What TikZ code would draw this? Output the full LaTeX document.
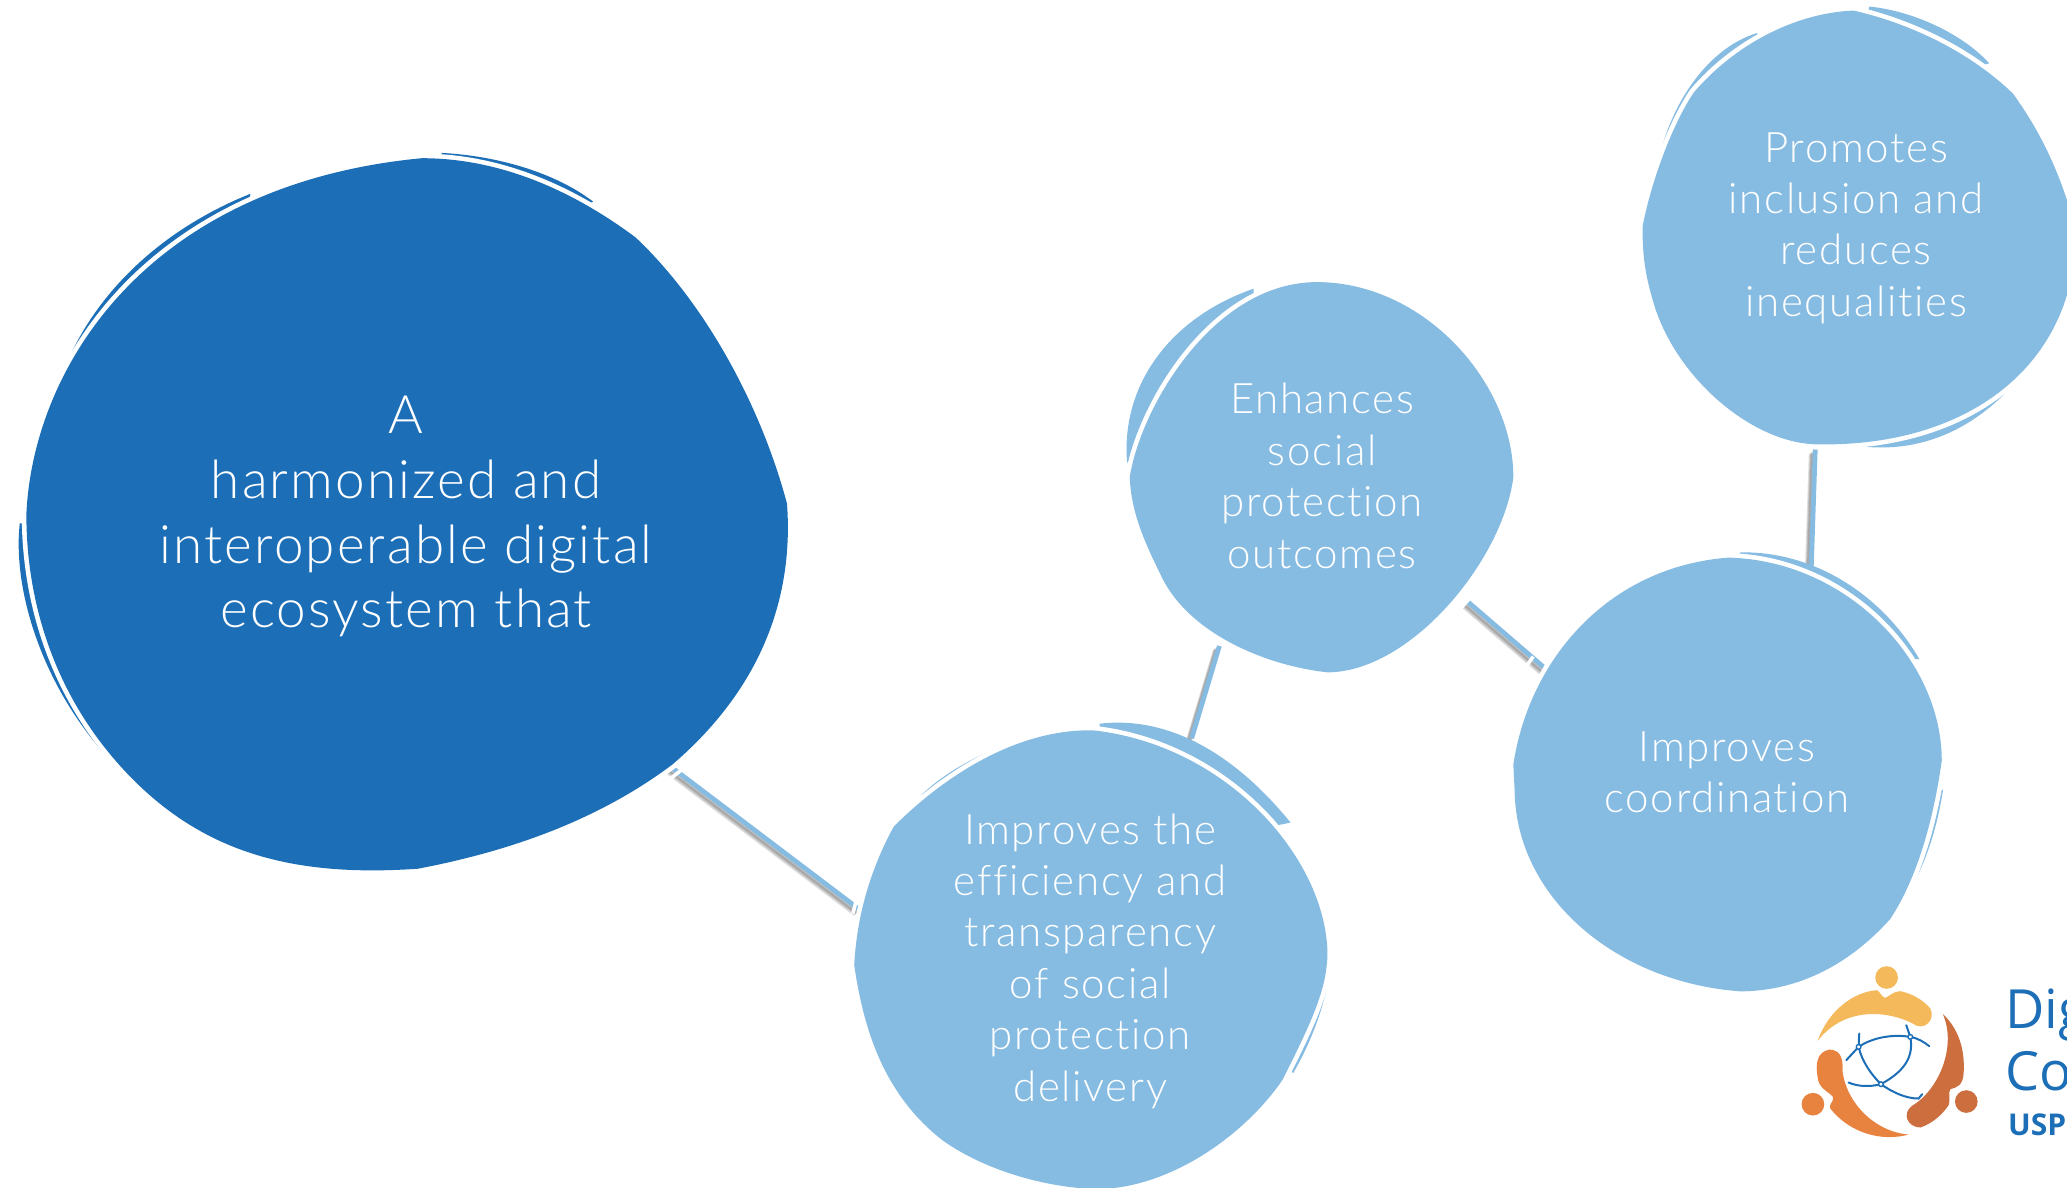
\documentclass[tikz,border=0pt]{standalone}
\usepackage{fontspec}
\setmainfont{Lato}[UprightFont=* Light,LetterSpace=4,Ligatures=NoCommon]
\newfontfamily\logofont{Open Sans}
\definecolor{dk}{HTML}{1C6EB7}
\definecolor{lt}{HTML}{86BBE2}
\definecolor{ly}{HTML}{F4B95B}
\definecolor{lo}{HTML}{E8833F}
\definecolor{ld}{HTML}{CC6E3E}
\tikzset{
  x=0.659pt,y=-0.659pt,
  blobdark/.style={fill=dk,preaction={draw=white,line width=4.6pt}},
  blobltc/.style={fill=lt,preaction={draw=white,line width=4.6pt}},
  label/.style={text=white,align=center,inner sep=0pt},
  smalltext/.style={label,font=\fontsize{21}{25.7}\selectfont},
  bigtext/.style={label,font=\fontsize{26.5}{32.3}\selectfont},
  link/.style={draw=lt,line width=2.4pt},
  linkshadow/.style={draw=black,line width=2.4pt,opacity=.13},
  net/.style={draw=dk,line width=1pt,line cap=round}
}
\begin{document}
\begin{tikzpicture}
\useasboundingbox (0,0) rectangle (1568,901);
\clip (0,0) rectangle (1568,901);
% connector ends
\coordinate (l1a) at (508,581); \coordinate (l1b) at (652,690);
\coordinate (l2a) at (925,490); \coordinate (l2b) at (904,560);
\coordinate (l3a) at (1114,457); \coordinate (l3b) at (1172,507);
\coordinate (l4a) at (1377,341); \coordinate (l4b) at (1374,430);
\foreach \a/\b in {l1a/l1b,l2a/l2b,l3a/l3b,l4a/l4b}{
  \draw[linkshadow,transform canvas={xshift=-2pt,yshift=-2.2pt}] (\a) -- (\b);
  \draw[linkshadow,transform canvas={xshift=-1.5pt,yshift=-1.7pt}] (\a) -- (\b);
  \draw[linkshadow,transform canvas={xshift=-1pt,yshift=-1.2pt}] (\a) -- (\b);
  \draw[link] (\a) -- (\b);
}
% crescents, big blob
\fill[dk] (190,147) .. controls (120,175) and (70,225) .. (48,282) -- (150,300) -- cycle;
\fill[dk] (335,116) .. controls (375,118) and (420,130) .. (450,153) -- (330,200) -- cycle;
\fill[dk] (15,397) .. controls (8,460) and (45,560) .. (129,615) -- (200,400) -- cycle;
% crescents, blob 2
\fill[lt] (699,603) .. controls (725,578) and (770,557) .. (820,552) -- (800,650) -- cycle;
\fill[lt] (834,549) .. controls (885,543) and (935,570) .. (979,624) -- (850,650) -- cycle;
\fill[lt] (1008,742) .. controls (1003,770) and (992,795) .. (981,814) -- (900,750) -- cycle;
% crescent, blob 3
\fill[lt] (951,219) .. controls (890,240) and (850,290) .. (855,351) -- (950,350) -- cycle;
% crescents, blob 4
\fill[lt] (1320,419) .. controls (1380,418) and (1430,455) .. (1456,500) -- (1300,500) -- cycle;
\fill[lt] (1474,599) .. controls (1470,625) and (1462,652) .. (1450,673) -- (1380,620) -- cycle;
% crescents, blob 5
\fill[lt] (1418,5) .. controls (1450,8) and (1488,25) .. (1509,48) -- (1400,80) -- cycle;
\fill[lt] (1333,25) .. controls (1300,35) and (1272,70) .. (1260,114) -- (1350,120) -- cycle;
\fill[lt] (1416,339) .. controls (1490,345) and (1545,290) .. (1575,210) -- (1450,200) -- cycle;
% blobs
\path[blobdark] (320,120) .. controls (380,120) and (435,145) .. (482,180)
  .. controls (530,225) and (575,300) .. (597,382)
  .. controls (602,450) and (580,520) .. (510,580)
  .. controls (450,625) and (380,647) .. (317,659)
  .. controls (230,665) and (165,650) .. (110,600)
  .. controls (50,545) and (20,470) .. (20,390)
  .. controls (25,280) and (110,140) .. (320,120) -- cycle;
\path[blobltc] (829,554) .. controls (770,553) and (715,590) .. (678,627)
  .. controls (660,660) and (650,695) .. (648,732)
  .. controls (655,780) and (670,830) .. (715,865)
  .. controls (750,890) and (800,902) .. (835,902)
  .. controls (890,900) and (945,860) .. (973,819)
  .. controls (995,775) and (1007,750) .. (1007,722)
  .. controls (1005,650) and (930,565) .. (829,554) -- cycle;
\path[blobltc] (999,214) .. controls (1080,214) and (1148,290) .. (1148,362)
  .. controls (1140,425) and (1070,510) .. (1007,510)
  .. controls (960,505) and (900,480) .. (880,435)
  .. controls (865,405) and (858,385) .. (857,362)
  .. controls (865,310) and (920,214) .. (999,214) -- cycle;
\path[blobltc] (1311,423) .. controls (1400,425) and (1473,500) .. (1473,577)
  .. controls (1467,620) and (1455,665) .. (1434,697)
  .. controls (1400,735) and (1360,752) .. (1320,752)
  .. controls (1225,745) and (1150,680) .. (1149,600)
  -- (1148,580) .. controls (1160,500) and (1220,430) .. (1311,423) -- cycle;
\path[blobltc] (1406,8) .. controls (1450,18) and (1495,40) .. (1527,71)
  .. controls (1548,100) and (1562,130) .. (1572,165)
  .. controls (1574,185) and (1574,190) .. (1575,180)
  .. controls (1572,280) and (1490,340) .. (1376,337)
  .. controls (1330,335) and (1275,290) .. (1256,235)
  .. controls (1248,210) and (1246,195) .. (1246,172)
  .. controls (1252,140) and (1268,95) .. (1285,70)
  .. controls (1315,35) and (1360,10) .. (1406,8) -- cycle;
% white ticks on connectors
\draw[white,line width=1.8pt] (507,592) -- (517,584);
\draw[white,line width=1.8pt] (650,681) -- (647,693);
\draw[white,line width=1.8pt] (1163,498) -- (1157,507);
% labels
\node[bigtext] (main) at (308,392) {A\\harmonized and\\interoperable digital\\ecosystem that};
\node[smalltext] (eff) at (827,729) {Improves the\\efficiency and\\transparency\\of social\\protection\\delivery};
\node[smalltext] (enh) at (1003,361) {Enhances\\social\\protection\\outcomes};
\node[smalltext] (coo) at (1310,586) {Improves\\coordination};
\node[smalltext] (pro) at (1408,173) {Promotes\\inclusion and\\reduces\\inequalities};
% logo
\begin{scope}[shift={(1335.3,713.2)},xscale=0.2529,yscale=0.2529]
  \fill[ly] (379,112) circle (34);
  \fill[ly] (172,302) .. controls (205,210) and (280,155) .. (350,150)
    .. controls (360,155) and (365,172) .. (375,173)
    .. controls (385,170) and (400,152) .. (420,153)
    .. controls (455,160) and (490,180) .. (510,205)
    .. controls (525,235) and (500,265) .. (470,257)
    .. controls (400,215) and (260,190) .. (172,302) -- cycle;
  \fill[ld] (618,484) circle (34);
  \fill[ld] (548,222) .. controls (595,265) and (615,330) .. (610,400)
    .. controls (608,435) and (590,442) .. (570,447)
    .. controls (562,460) and (572,478) .. (565,495)
    .. controls (545,525) and (515,550) .. (480,562)
    .. controls (440,560) and (425,520) .. (455,497)
    .. controls (535,450) and (590,320) .. (548,222) -- cycle;
  \fill[lo] (158,492) circle (34);
  \fill[lo] (445,583) .. controls (365,605) and (270,580) .. (210,505)
    .. controls (205,490) and (222,485) .. (218,470)
    .. controls (200,450) and (175,445) .. (172,410)
    .. controls (165,370) and (170,335) .. (208,328)
    .. controls (245,330) and (248,360) .. (247,395)
    .. controls (260,490) and (345,575) .. (445,583) -- cycle;
  \draw[net] (258,360) -- (295,320) .. controls (340,290) and (400,282) .. (450,290)
    .. controls (475,295) and (490,305) .. (507,318);
  \draw[net] (297,280) -- (295,320);
  \draw[net] (438,255) -- (450,290);
  \draw[net] (295,320) .. controls (305,365) and (335,405) .. (362,432)
    .. controls (410,405) and (465,365) .. (450,290);
  \draw[net] (265,427) .. controls (295,440) and (330,440) .. (362,432)
    .. controls (395,455) and (435,475) .. (475,475) .. controls (482,470) and (480,465) .. (486,462);
  \foreach \p in {(295,320),(450,290),(362,432)}
    \filldraw[draw=dk,fill=white,line width=0.7pt] \p circle (7);
\end{scope}
\node[anchor=base west,inner sep=0pt,text=dk,font=\logofont\fontsize{27}{30}\selectfont] (d1) at (1521,780) {Dig};
\node[anchor=base west,inner sep=0pt,text=dk,font=\logofont\fontsize{27}{30}\selectfont] (d2) at (1521,827) {Co};
\node[anchor=base west,inner sep=0pt,text=dk,font=\logofont\bfseries\fontsize{15}{18}\selectfont] (d3) at (1523,861) {USP};
\end{tikzpicture}
\end{document}
